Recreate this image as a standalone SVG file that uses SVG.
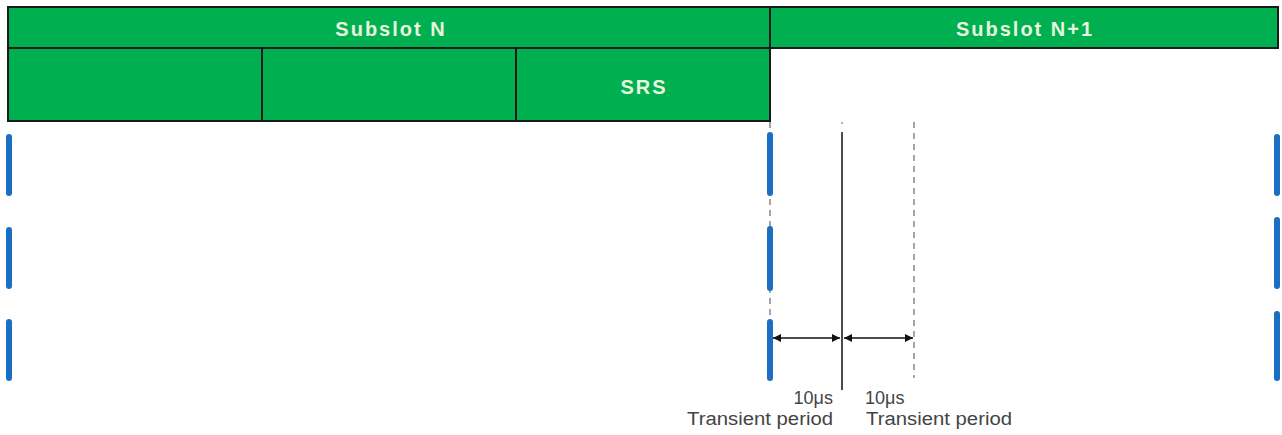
<svg xmlns="http://www.w3.org/2000/svg" width="1282" height="435" viewBox="0 0 1282 435">
<style>
.box{fill:#00B050;stroke:#1a1a1a;stroke-width:2}
.lbl{font-family:"Liberation Sans",Arial,sans-serif;font-weight:bold;font-size:20px;fill:#E8F4DE;letter-spacing:2px;text-anchor:middle}
.blue{stroke:#1a6fc4;stroke-width:6;stroke-linecap:round}
.gdash{stroke:#888;stroke-width:1.5;stroke-dasharray:6,5}
.note{font-family:"Liberation Sans",Arial,sans-serif;font-size:18px;fill:#444}
.arr{stroke:#111;stroke-width:1.5;marker-start:url(#ah);marker-end:url(#ah)}
</style>
<defs>
<marker id="ah" viewBox="0 0 10 10" refX="10" refY="5" markerWidth="8" markerHeight="8" markerUnits="userSpaceOnUse" orient="auto-start-reverse">
<path d="M0,0 L10,5 L0,10 z" fill="#111"/>
</marker>
</defs>
<rect width="1282" height="435" fill="#fff"/>
<g id="subslotN">
<rect class="box" x="8" y="7" width="762" height="41"/>
<text class="lbl" x="391" y="36">Subslot N</text>
</g>
<g id="subslotN1">
<rect class="box" x="770" y="7" width="508" height="41"/>
<text class="lbl" x="1025" y="36">Subslot N+1</text>
</g>
<g id="sym1"><rect class="box" x="8" y="48" width="254" height="73"/></g>
<g id="sym2"><rect class="box" x="262" y="48" width="254" height="73"/></g>
<g id="srs">
<rect class="box" x="516" y="48" width="254" height="73"/>
<text class="lbl" x="644" y="94">SRS</text>
</g>
<g id="connectors">
<line class="blue" x1="9" y1="137" x2="9" y2="193"/>
<line class="blue" x1="9" y1="230" x2="9" y2="286"/>
<line class="blue" x1="9" y1="322" x2="9" y2="378"/>
<line class="blue" x1="1277" y1="137" x2="1277" y2="193"/>
<line class="blue" x1="1277" y1="220" x2="1277" y2="286"/>
<line class="blue" x1="1277" y1="314" x2="1277" y2="378"/>
<line class="gdash" x1="770" y1="122" x2="770" y2="380"/>
<line class="blue" x1="770" y1="135" x2="770" y2="193"/>
<line class="blue" x1="770" y1="229" x2="770" y2="288"/>
<line class="blue" x1="770" y1="322" x2="770" y2="378"/>
<line x1="842" y1="122" x2="842" y2="124" stroke="#999" stroke-width="1.5"/>
<line x1="842" y1="132" x2="842" y2="390" stroke="#111" stroke-width="1.5"/>
<line class="gdash" x1="914" y1="122" x2="914" y2="378"/>
<line class="arr" x1="773" y1="338" x2="840" y2="338"/>
<line class="arr" x1="844" y1="338" x2="913" y2="338"/>
</g>
<g id="labels">
<text class="note" x="833" y="404" text-anchor="end">10μs</text>
<text class="note" x="833" y="425" text-anchor="end" textLength="146" lengthAdjust="spacingAndGlyphs">Transient period</text>
<text class="note" x="865" y="404">10μs</text>
<text class="note" x="866" y="425" textLength="146" lengthAdjust="spacingAndGlyphs">Transient period</text>
</g>
</svg>
